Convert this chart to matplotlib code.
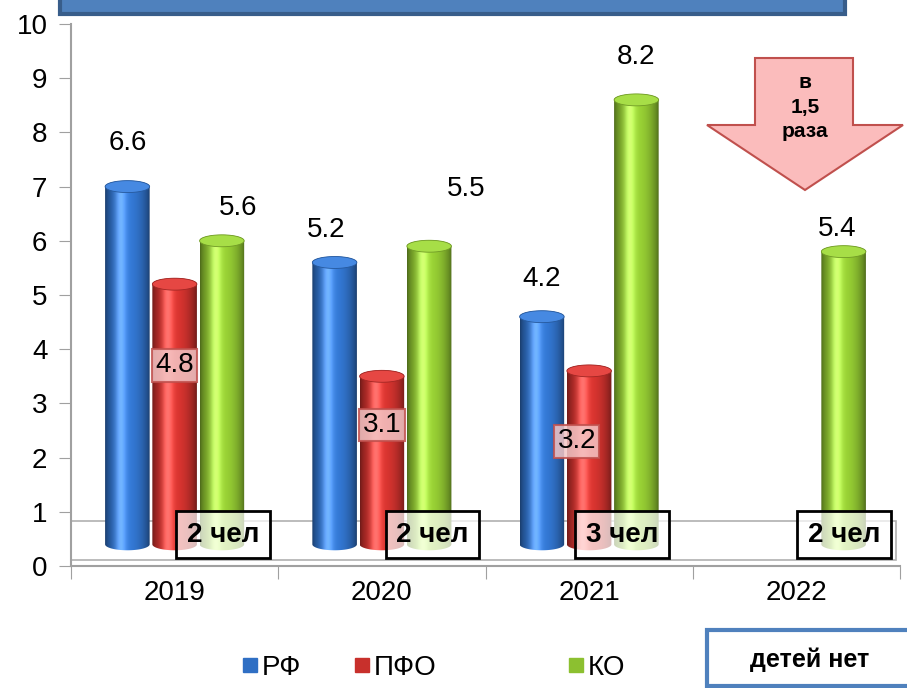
import numpy as np
import matplotlib
matplotlib.use('Agg')
import matplotlib.pyplot as plt
import matplotlib.colors as mcolors
from matplotlib.patches import Rectangle, Polygon
from matplotlib.lines import Line2D

plt.rcParams['font.family'] = ['Liberation Sans', 'DejaVu Sans']

# data
years = ['2019', '2020', '2021', '2022']
rf = [6.6, 5.2, 4.2, np.nan]
pfo = [4.8, 3.1, 3.2, np.nan]
ko = [5.6, 5.5, 8.2, 5.4]
cases = [2, 2, 3, 2]
series_names = ['РФ', 'ПФО', 'КО']
series_colors = ['#2f6fc4', '#c8302c', '#8cc030']

W, H = 907, 688
fig = plt.figure(figsize=(W / 100, H / 100), dpi=100)
ax = fig.add_axes([71 / W, (H - 566) / H, (900 - 71) / W, (566 - 24) / H])

DEPTH = 0.4      # 3D offset of the bars above the axis
BAR_W = 0.215
STEP = 0.228
ELL = 0.22       # vertical size of the cylinder caps (data units)


def cylinder(ax, xc, bottom, h, w, color):
    base = np.array(mcolors.to_rgb(color))
    t = np.linspace(0, 1, 80)
    k = 0.55 + 0.55 * np.sin(np.pi * t) ** 0.7
    hi = np.exp(-((t - 0.35) / 0.12) ** 2) * 0.25
    rgb = np.clip(base[None, :] * k[:, None] + hi[:, None], 0, 1)
    img = rgb[None, :, :]
    top = bottom + h
    a = np.linspace(np.pi, 2 * np.pi, 40)
    lower = np.column_stack([xc + w / 2 * np.cos(a), bottom + ELL / 2 * np.sin(a)])
    b = np.linspace(0, np.pi, 40)
    upper = np.column_stack([xc + w / 2 * np.cos(b), top + ELL / 2 * np.sin(b)])
    verts = np.vstack([lower, upper, lower[:1]])
    patch = Polygon(verts, closed=True, facecolor='none', edgecolor='none')
    ax.add_patch(patch)
    im = ax.imshow(img, extent=[xc - w / 2, xc + w / 2, bottom - ELL, top + ELL],
                   aspect='auto', interpolation='bilinear', zorder=3)
    im.set_clip_path(patch)
    # cap
    c = np.linspace(0, 2 * np.pi, 60)
    cap = np.column_stack([xc + w / 2 * np.cos(c), top + ELL / 2 * np.sin(c)])
    capc = np.clip(base * 1.05 + 0.08, 0, 1)
    ax.add_patch(Polygon(cap, closed=True, facecolor=capc, edgecolor=base * 0.8,
                         lw=0.6, zorder=4))


x = np.arange(len(years))

# floor of the 3D chart
ax.add_patch(Rectangle((-0.5, 0.11), 3.98, 0.72, facecolor='white',
                       edgecolor='#b0b0b0', lw=1.2, zorder=1))

for i, vals in enumerate([rf, pfo, ko]):
    for j, v in enumerate(vals):
        if np.isnan(v):
            continue
        cylinder(ax, x[j] + (i - 1) * STEP, DEPTH, v, BAR_W, series_colors[i])

# value labels
rf_dx = [0.0, -0.04, 0.0, 0.0]
rf_dy = [1.2, 1.0, 1.1, 0.0]
for j, v in enumerate(rf):
    if not np.isnan(v):
        ax.text(x[j] - STEP + rf_dx[j], v + rf_dy[j], f'{v:.1f}', ha='center',
                va='center', fontsize=20, zorder=6)
ko_dx = [0.08, 0.18, 0.0, -0.03]
ko_dy = [1.0, 1.45, 1.2, 0.82]
for j, v in enumerate(ko):
    ax.text(x[j] + STEP + ko_dx[j], v + ko_dy[j], f'{v:.1f}', ha='center',
            va='center', fontsize=20, zorder=6)
pfo_dx = [0.0, 0.0, -0.06, 0.0]
pfo_dy = [-1.5, -0.9, -1.3, 0.0]
for j, v in enumerate(pfo):
    if not np.isnan(v):
        ax.text(x[j] + pfo_dx[j], v + DEPTH + pfo_dy[j], f'{v:.1f}', ha='center',
                va='center', fontsize=20, zorder=6,
                bbox=dict(boxstyle='square,pad=0.12', facecolor='#f4c6c6',
                          edgecolor='#c0504d', lw=1.5, alpha=0.85))

# case-count boxes
case_dx = [0.234, 0.244, 0.16, 0.23]
for j, n in enumerate(cases):
    ax.text(x[j] + case_dx[j], 0.58, f'{n} чел', ha='center', va='center',
            fontsize=20, fontweight='bold', zorder=7,
            bbox=dict(boxstyle='square,pad=0.38', facecolor=(1, 1, 1, 0.7),
                      edgecolor='black', lw=2))

ax.set_xlim(-0.5, 3.5)
ax.set_ylim(0, 10)
ax.set_yticks(range(0, 11))
ax.set_xticks(np.arange(-0.5, 4, 1))
ax.set_xticklabels([])
ax.set_xticks(x, minor=True)
ax.set_xticklabels(years, minor=True, fontsize=20)
ax.tick_params(axis='x', which='minor', length=0, pad=10)
ax.tick_params(axis='x', which='major', length=9, color='#a0a0a0', direction='out')
ax.tick_params(axis='y', length=9, color='#a0a0a0', direction='out', labelsize=20, pad=8)
for s in ['top', 'right']:
    ax.spines[s].set_visible(False)
for s in ['left', 'bottom']:
    ax.spines[s].set_color('#a0a0a0')
    ax.spines[s].set_linewidth(1.5)

# title bar remnant at the top
fig.patches.append(Rectangle((60 / W, (H - 14) / H), 785 / W, 30 / H,
                             transform=fig.transFigure, facecolor='#4f81bd',
                             edgecolor='#385d8a', lw=3, zorder=5))

# arrow "в 1,5 раза"
arrow_px = [(755, 58), (853, 58), (853, 125), (903, 125), (805, 190), (707, 125), (755, 125)]
arrow = [(px / W, 1 - py / H) for px, py in arrow_px]
fig.patches.append(Polygon(arrow, closed=True, transform=fig.transFigure,
                           facecolor='#fbbcbc', edgecolor='#c0504d', lw=1.5, zorder=5))
fig.text(805 / W, 1 - 107 / H, 'в\n1,5\nраза', ha='center', va='center',
         fontsize=15, fontweight='bold', linespacing=1.35, zorder=6)

# legend, one entry per slot
legend_x = [240, 352, 566]
for name, c, lx in zip(series_names, series_colors, legend_x):
    h = Line2D([], [], marker='s', linestyle='none', markersize=10,
               markerfacecolor=c, markeredgecolor=c)
    fig.legend([h], [name], loc='center left', bbox_to_anchor=(lx / W, 1 - 668 / H),
               frameon=False, fontsize=20, handletextpad=0.1, handlelength=0.7,
               borderpad=0, borderaxespad=0)

# "детей нет" box
fig.patches.append(Rectangle((707 / W, (H - 686) / H), 220 / W, 56 / H,
                             transform=fig.transFigure, facecolor='white',
                             edgecolor='#4f81bd', lw=3, zorder=5))
fig.text(810 / W, 1 - 660 / H, 'детей нет', ha='center', va='center',
         fontsize=18, fontweight='bold', zorder=6)

fig.savefig('out.png', dpi=100)
